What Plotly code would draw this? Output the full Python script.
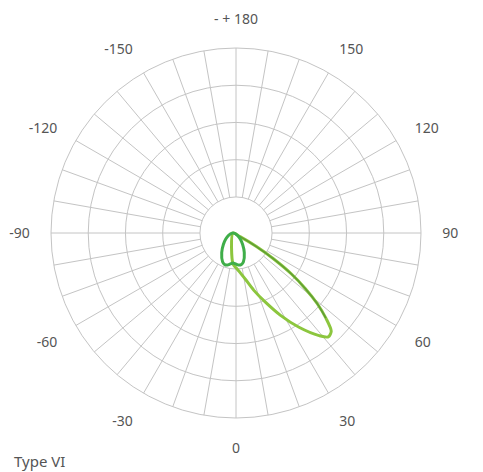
import plotly.graph_objects as go

# Angular grid / tick labels
grid_angles = list(range(0, 360, 10))
label_map = {0: "0", 30: "30", 60: "60", 90: "90", 120: "120", 150: "150",
             180: "- + 180", 210: "-150", 240: "-120", 270: "-90", 300: "-60", 330: "-30"}
tick_text = [label_map.get(a, "") for a in grid_angles]

# Series A (light green lobe): angle (deg) and intensity
theta_a = [-5, 0, 5, 10, 15, 20, 25, 30, 35, 40, 42.5, 45, 47.5, 50, 52.5, 55, 57.5, 60, 62.5, 65]
r_a = [0, 168, 189, 216, 259, 330, 411, 514, 622, 724, 762, 751, 681, 595, 492, 384, 259, 146, 43, 0]

# Series B (dark green heart)
theta_b = [-90, -80, -70, -60, -50, -40, -30, -20, -15, -10, -5, 0, 5, 10, 15, 20, 30, 40, 50, 60, 70, 80, 90]
r_b = [0, 5, 16, 30, 51, 81, 122, 165, 176, 176, 168, 162, 168, 176, 176, 165, 122, 81, 51, 30, 16, 5, 0]

# Series C (mid green, along upper edge of lobe)
theta_c = [65, 62.5, 60, 57.5, 55, 52.5, 50, 47.5]
r_c = [0, 43, 146, 259, 384, 492, 595, 681]

r_max = 1000
ring_vals = [0, 1, 2, 3]

# page offset of the plot div (default body margin)
OFF = 8
W, H = 483 - OFF, 472 - OFF
cx, cy, R = 236 - OFF, 233 - OFF, 185
cx_d = 233 - OFF

fig = go.Figure()
fig.add_trace(go.Scatterpolar(r=[0], theta=[0], mode="markers", marker=dict(opacity=0),
                              showlegend=False, hoverinfo="skip", subplot="polar"))
fig.add_trace(go.Scatterpolar(r=r_a, theta=theta_a, mode="lines",
                              line=dict(color="#8cc63e", width=3, shape="spline", smoothing=0.8),
                              showlegend=False, subplot="polar2"))
fig.add_trace(go.Scatterpolar(r=r_c, theta=theta_c, mode="lines",
                              line=dict(color="#5f9e34", width=1.5, shape="spline", smoothing=0.8),
                              showlegend=False, subplot="polar2"))
fig.add_trace(go.Scatterpolar(r=r_b, theta=theta_b, mode="lines",
                              line=dict(color="#3fae49", width=3, shape="spline", smoothing=0.8),
                              showlegend=False, subplot="polar2"))

grid_col = "#c4c4c4"
fig.update_layout(
    width=W, height=H,
    margin=dict(l=0, r=0, t=0, b=0),
    paper_bgcolor="white",
    font=dict(family="Noto Sans", size=14, color="#555555"),
    polar=dict(
        domain=dict(x=[(cx - R) / W, (cx + R) / W], y=[(H - cy - R) / H, (H - cy + R) / H]),
        hole=0.195,
        bgcolor="white",
        radialaxis=dict(range=[0, 4], tickvals=ring_vals, showticklabels=False, ticks="",
                        showline=False, gridcolor=grid_col, gridwidth=1),
        angularaxis=dict(rotation=-90, direction="counterclockwise", tickmode="array",
                         tickvals=grid_angles, ticktext=tick_text, ticks="outside", ticklen=18,
                         tickcolor="rgba(0,0,0,0)", showline=True, linecolor=grid_col, linewidth=1,
                         gridcolor=grid_col, gridwidth=1,
                         tickfont=dict(size=14, color="#555555")),
    ),
    polar2=dict(
        domain=dict(x=[(cx_d - R) / W, (cx_d + R) / W], y=[(H - cy - R) / H, (H - cy + R) / H]),
        hole=0,
        bgcolor="rgba(0,0,0,0)",
        radialaxis=dict(range=[0, r_max], visible=False),
        angularaxis=dict(rotation=-90, direction="counterclockwise", visible=False),
    ),
    annotations=[dict(text="Type VI", x=(12 - OFF) / W, y=(H - (461 - OFF)) / H, xref="paper", yref="paper",
                      xanchor="left", yanchor="middle", showarrow=False,
                      font=dict(size=15, color="#555555"))],
)

fig.write_html("out.html")
